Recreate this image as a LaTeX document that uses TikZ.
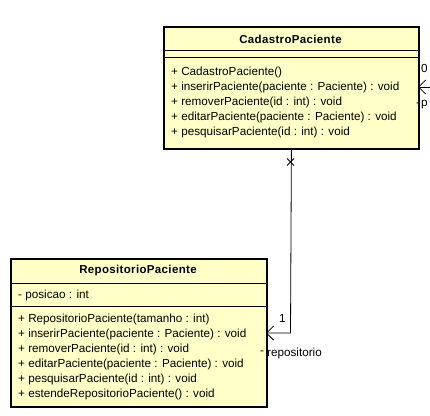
\documentclass[tikz,border=0pt]{standalone}
\usepackage{fontspec}
\setmainfont{Liberation Sans}
\newfontfamily\umlfont{Liberation Sans}
\newfontfamily\umlboldfont[LetterSpace=3]{Liberation Sans Bold}
\usetikzlibrary{arrows.meta,calc}
\definecolor{umlfill}{HTML}{FFFFC8}
\tikzset{
  umlbox/.style={draw=black, line width=1.8pt, fill=umlfill, rectangle, inner sep=0pt, anchor=north west},
  sepline/.style={draw=black, line width=0.8pt},
  title/.style={font=\umlboldfont\fontsize{11.5}{13}\selectfont, inner sep=0pt},
  member/.style={font=\umlfont\fontsize{11.7}{14}\selectfont, inner sep=0pt, anchor=west},
  conn/.style={draw=black, line width=0.8pt},
  navarrow/.style={-{Straight Barb[length=7pt,width=14pt,line width=0.8pt]}},
  rolelabel/.style={font=\umlfont\fontsize{11.7}{14}\selectfont, inner sep=0pt, anchor=west}
}
\begin{document}
\begin{tikzpicture}[x=1pt,y=-1pt]
\useasboundingbox (0,0) rectangle (430,415);
\clip (0,0) rectangle (430,415);
% CadastroPaciente
\node[umlbox, minimum width=255pt, minimum height=122pt] (cad) at (163,26) {};
\draw[sepline] (163,50) -- (418,50);
\draw[sepline] (163,57) -- (418,57);
\node[title] (cadt) at (290.5,39) {CadastroPaciente};
\node[member] (cm1) at (171,72) {+ CadastroPaciente()};
\node[member] (cm2) at (171,87) {+ inserirPaciente(paciente : Paciente) : void};
\node[member] (cm3) at (171,102) {+ removerPaciente(id : int) : void};
\node[member] (cm4) at (171,117) {+ editarPaciente(paciente : Paciente) : void};
\node[member] (cm5) at (171,132) {+ pesquisarPaciente(id : int) : void};
% RepositorioPaciente
\node[umlbox, minimum width=256pt, minimum height=148pt] (rep) at (10,258) {};
\draw[sepline] (10,283) -- (266,283);
\draw[sepline] (10,306) -- (266,306);
\node[title] (rept) at (138,271) {RepositorioPaciente};
\node[member] (ra1) at (18,295) {- posicao : int};
\node[member] (rm1) at (18,319) {+ RepositorioPaciente(tamanho : int)};
\node[member] (rm2) at (18,334) {+ inserirPaciente(paciente : Paciente) : void};
\node[member] (rm3) at (18,349) {+ removerPaciente(id : int) : void};
\node[member] (rm4) at (18,364) {+ editarPaciente(paciente : Paciente) : void};
\node[member] (rm5) at (18,379) {+ pesquisarPaciente(id : int) : void};
\node[member] (rm6) at (18,394) {+ estendeRepositorioPaciente() : void};
% association cad -> rep
\coordinate (bend) at (290.5,333);
\coordinate (repend) at (266,333);
\draw[conn, navarrow] (cad.south) -- (bend) -- (repend);
\coordinate (xm) at (290.5,162);
\draw[conn] ($(xm)+(-3.5,-3.5)$) -- ($(xm)+(3.5,3.5)$);
\draw[conn] ($(xm)+(-3.5,3.5)$) -- ($(xm)+(3.5,-3.5)$);
\node[rolelabel] (mult1) at (279,318) {1};
\node[rolelabel] (role1) at (260,353) {-};
\node[rolelabel] (role1b) at (267,353) {repositorio};
% association from the right -> cad
\coordinate (rightend) at (440,87);
\coordinate (cadr) at (418,87);
\draw[conn, navarrow] (rightend) -- (cadr);
\node[rolelabel] (mult2) at (421,68) {0};
\node[rolelabel] (role2) at (416,105) {-};
\node[rolelabel] (role2b) at (421,105) {p};
\end{tikzpicture}
\end{document}
